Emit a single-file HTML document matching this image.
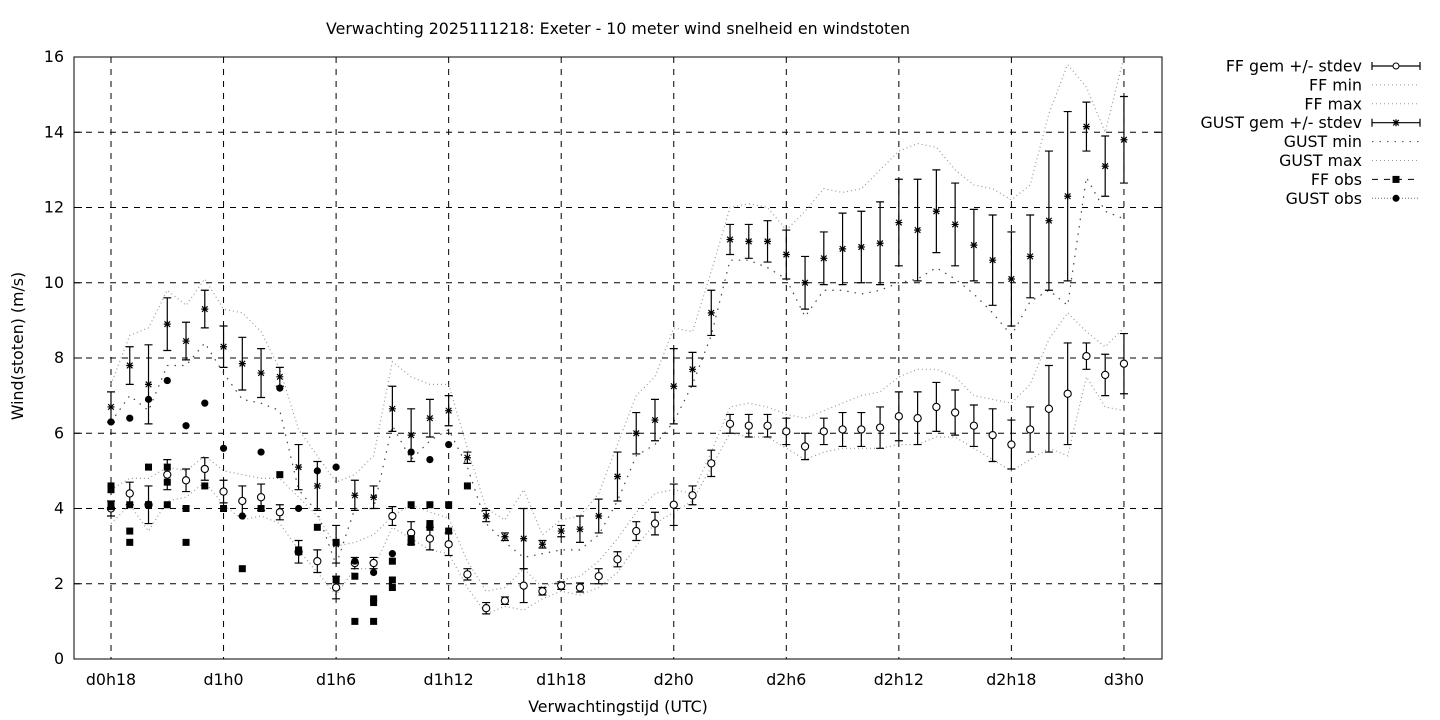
<!DOCTYPE html>
<html><head><meta charset="utf-8"><style>
body{margin:0;background:#fff}
svg{display:block}
text{font-family:"DejaVu Sans","Liberation Sans",sans-serif;font-size:15.8px;fill:#000}
</style></head><body>
<svg id="s" width="1440" height="720" xmlns="http://www.w3.org/2000/svg"></svg>
<script>
const S=document.getElementById('s');
const L=74,R=1162,T=57,B=659;
const X=h=>111+(h-18)*18.7583, Y=v=>B-v*(B-T)/16;
let o='';
for(let v=0;v<=16;v+=2){const y=Y(v);o+=`<text x="64" y="${y+5}" text-anchor="end">${v}</text>`;
 if(v>0&&v<16)o+=`<line x1="${L}" x2="${R}" y1="${y}" y2="${y}" stroke="#000" stroke-dasharray="6,6"/>`;
 o+=`<line x1="${L}" x2="${L+8}" y1="${y}" y2="${y}" stroke="#000"/><line x1="${R-8}" x2="${R}" y1="${y}" y2="${y}" stroke="#000"/>`;}
const xl=['d0h18','d1h0','d1h6','d1h12','d1h18','d2h0','d2h6','d2h12','d2h18','d3h0'];
xl.forEach((t,i)=>{const x=X(18+6*i);o+=`<line x1="${x}" x2="${x}" y1="${T}" y2="${B}" stroke="#000" stroke-dasharray="6,6"/><text x="${x}" y="685" text-anchor="middle">${t}</text>`;});
o+=`<rect x="${L}" y="${T}" width="${R-L}" height="${B-T}" fill="none" stroke="#000"/>`;
o+=`<text x="618" y="34" text-anchor="middle">Verwachting 2025111218: Exeter - 10 meter wind snelheid en windstoten</text>`;
o+=`<text x="618" y="712" text-anchor="middle">Verwachtingstijd (UTC)</text>`;
o+=`<text transform="translate(23,346) rotate(-90)" text-anchor="middle">Wind(stoten) (m/s)</text>`;
const ffmax=[4.5,4.8,4.8,5.1,5.0,5.4,5.0,4.9,4.8,4.8,4.3,3.8,3.0,3.1,3.3,3.8,4.1,3.9,3.75,2.6,1.8,1.9,2.4,1.9,2.1,2.2,2.6,3.2,3.9,4.4,4.5,4.4,5.5,6.7,6.8,6.7,6.5,6.4,6.6,6.8,7.0,7.1,7.5,7.7,7.7,7.5,7.0,6.9,6.8,7.3,8.5,9.2,8.7,8.3,8.8];
const ffmin=[3.6,4.1,3.4,4.2,4.3,4.7,4.1,3.7,3.8,3.6,2.9,2.3,1.7,2.4,2.4,3.5,3.2,2.9,2.8,1.9,1.2,1.4,1.3,1.6,1.8,1.7,1.9,2.3,3.0,3.6,3.9,4.2,5.1,6.0,5.9,5.9,5.6,5.3,5.5,5.6,5.6,5.6,5.7,5.7,5.9,5.9,5.6,5.3,5.0,5.3,5.6,5.4,7.5,6.7,6.6];
const gmax=[7.3,8.6,8.8,9.8,9.4,10.1,9.3,9.2,8.7,7.7,6.1,5.4,4.7,4.9,5.4,7.9,7.5,7.3,7.3,5.6,4.0,3.7,4.5,3.3,3.7,3.8,4.4,5.7,7.0,7.5,8.8,8.7,10.3,12.0,12.1,12.0,11.4,11.9,12.5,12.4,12.5,13.0,13.5,13.7,13.6,13.0,12.6,12.5,12.2,12.6,14.5,15.8,15.2,14.0,16.0];
const gmin=[6.3,7.0,6.6,7.8,7.8,8.4,7.6,6.9,6.8,6.6,4.5,3.9,2.5,4.0,4.0,6.2,5.3,5.8,6.1,5.1,3.6,3.1,2.7,2.8,2.9,2.9,3.3,4.2,5.4,5.7,6.3,7.3,8.6,10.6,10.6,10.4,10.1,9.1,9.8,9.8,9.7,9.8,10.0,10.1,10.4,10.1,9.7,9.2,8.6,9.5,9.8,9.4,12.8,11.9,11.7];
const poly=(a,da)=>`<polyline fill="none" stroke="#999" stroke-width="1.2" stroke-dasharray="${da}" points="${a.map((v,i)=>X(18+i)+','+Y(v)).join(' ')}"/>`;
o+=poly(ffmax,'1,3')+poly(ffmin,'1,3')+poly(gmax,'1,3')+`<polyline fill="none" stroke="#444" stroke-width="1.2" stroke-dasharray="1.5,6" points="${gmin.map((v,i)=>X(18+i)+','+Y(v)).join(' ')}"/>`;
const ff=[[4,.2],[4.4,.3],[4.1,.5],[4.9,.4],[4.75,.3],[5.05,.3],[4.45,.3],[4.2,.4],[4.3,.35],[3.9,.2],[2.85,.3],[2.6,.3],[1.9,.3],[2.55,.15],[2.55,.15],[3.8,.25],[3.35,.3],[3.2,.3],[3.05,.3],[2.25,.15],[1.35,.15],[1.55,.1],[1.95,.45],[1.8,.1],[1.95,.1],[1.9,.12],[2.2,.2],[2.65,.2],[3.4,.25],[3.6,.3],[4.1,.55],[4.35,.25],[5.2,.35],[6.25,.25],[6.2,.3],[6.2,.3],[6.05,.35],[5.65,.35],[6.05,.35],[6.1,.45],[6.1,.45],[6.15,.55],[6.45,.65],[6.4,.7],[6.7,.65],[6.55,.6],[6.2,.55],[5.95,.7],[5.7,.65],[6.1,.6],[6.65,1.15],[7.05,1.35],[8.05,.35],[7.55,.55],[7.85,.8]];
const g=[[6.7,.4],[7.8,.5],[7.3,1.05],[8.9,.7],[8.45,.5],[9.3,.5],[8.3,.55],[7.85,.7],[7.6,.65],[7.5,.25],[5.1,.6],[4.6,.65],[3.05,.5],[4.35,.4],[4.3,.3],[6.65,.6],[5.95,.7],[6.4,.5],[6.6,.4],[5.35,.15],[3.8,.15],[3.25,.1],[3.2,.8],[3.05,.1],[3.4,.15],[3.45,.35],[3.8,.45],[4.85,.65],[6.0,.55],[6.35,.55],[7.25,1.0],[7.7,.45],[9.2,.6],[11.15,.4],[11.1,.45],[11.1,.55],[10.75,.65],[10.0,.7],[10.65,.7],[10.9,.95],[10.95,.95],[11.05,1.1],[11.6,1.15],[11.4,1.35],[11.9,1.1],[11.55,1.1],[11.0,.95],[10.6,1.2],[10.1,1.25],[10.7,1.1],[11.65,1.85],[12.3,2.25],[14.15,.65],[13.1,.8],[13.8,1.15]];
const eb=(x,m,s)=>`<path d="M${x},${Y(m-s)}V${Y(m+s)}M${x-4},${Y(m-s)}h8M${x-4},${Y(m+s)}h8" stroke="#000" stroke-width="1.2" fill="none"/>`;
const star=(x,y)=>`<path d="M${x-3.5},${y}h7M${x},${y-3.5}v7M${x-2.8},${y-2.8}l5.6,5.6M${x-2.8},${y+2.8}l5.6,-5.6" stroke="#000" stroke-width="1.2"/>`;
g.forEach(([m,s],i)=>{const x=X(18+i);o+=eb(x,m,s)+star(x,Y(m));});
ff.forEach(([m,s],i)=>{const x=X(18+i);o+=eb(x,m,s)+`<circle cx="${x}" cy="${Y(m)}" r="3.6" fill="#fff" stroke="#000" stroke-width="1.1"/>`;});
const fo={18:[4.6,4.5,4.1,4.05],19:[4.1,3.4,3.1],20:[5.1,4.1],21:[5.1,4.7,4.1],22:[4,3.1],23:[4.6],24:[4],25:[2.4],26:[4],27:[4.9],28:[2.9,2.85],29:[3.5],30:[3.1,2.1],31:[2.2,1],32:[1.6,1.5,1],33:[2.6,2.1,1.9],34:[4.1,3.2,3.1],35:[4.1,3.6,3.5],36:[4.1,3.4],37:[4.6]};
for(const h in fo)fo[h].forEach(v=>o+=`<rect x="${X(+h)-3.5}" y="${Y(v)-3.5}" width="7" height="7" fill="#000"/>`);
const go=[6.3,6.4,6.9,7.4,6.2,6.8,5.6,3.8,5.5,7.2,4.0,5.0,5.1,2.6,2.3,2.8,5.5,5.3,5.7];
go.forEach((v,i)=>o+=`<circle cx="${X(18+i)}" cy="${Y(v)}" r="3.6" fill="#000"/>`);
const lg=['FF gem +/- stdev','FF min','FF max','GUST gem +/- stdev','GUST min','GUST max','FF obs','GUST obs'];
lg.forEach((t,i)=>{const y=66+i*18.9;o+=`<text x="1362" y="${y+5.5}" text-anchor="end">${t}</text>`;
 const a=1372,b=1420,c=(a+b)/2;
 if(i==0||i==3){o+=`<path d="M${a},${y}H${b}M${a},${y-4}v8M${b},${y-4}v8" stroke="#000" stroke-width="1.2"/>`;o+=i==0?`<circle cx="${c}" cy="${y}" r="3" fill="#fff" stroke="#000"/>`:star(c,y);}
 else if(i==6){o+=`<line x1="${a}" x2="${b}" y1="${y}" y2="${y}" stroke="#000" stroke-dasharray="6,6"/><rect x="${c-3.5}" y="${y-3.5}" width="7" height="7"/>`;}
 else if(i==7){o+=`<line x1="${a}" x2="${b}" y1="${y}" y2="${y}" stroke="#666" stroke-dasharray="1,2"/><circle cx="${c}" cy="${y}" r="3.5"/>`;}
 else o+=`<line x1="${a}" x2="${b}" y1="${y}" y2="${y}" stroke="${i==4?'#444':'#999'}" stroke-dasharray="${i==4?'1.5,6':'1,3'}"/>`;
});
S.innerHTML=o;
</script>
</body></html>
